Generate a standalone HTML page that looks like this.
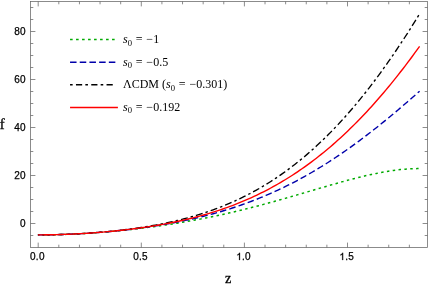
<!DOCTYPE html>
<html><head><meta charset="utf-8"><style>
html,body{margin:0;padding:0;background:#fff;}
svg{display:block;will-change:transform}
.t{font-family:"Liberation Sans",sans-serif;font-size:10px;letter-spacing:0.25px;fill:#000;stroke:#000;stroke-width:0.25px}
.a{font-family:"Liberation Serif",serif;font-size:15px;fill:#000;stroke:#000;stroke-width:0.3px}
.l{font-family:"Liberation Serif",serif;font-size:12px;fill:#000}
</style></head><body>
<svg width="429" height="287" viewBox="0 0 429 287">
<rect x="30.5" y="1.5" width="397.0" height="246.0" fill="none" stroke="#666" stroke-width="0.75"/>
<path d="M38.20,247.5v-4.9M38.20,1.5v4.9M58.82,247.5v-2.8M58.82,1.5v2.8M79.44,247.5v-2.8M79.44,1.5v2.8M100.06,247.5v-2.8M100.06,1.5v2.8M120.68,247.5v-2.8M120.68,1.5v2.8M141.30,247.5v-4.9M141.30,1.5v4.9M161.92,247.5v-2.8M161.92,1.5v2.8M182.54,247.5v-2.8M182.54,1.5v2.8M203.16,247.5v-2.8M203.16,1.5v2.8M223.78,247.5v-2.8M223.78,1.5v2.8M244.40,247.5v-4.9M244.40,1.5v4.9M265.02,247.5v-2.8M265.02,1.5v2.8M285.64,247.5v-2.8M285.64,1.5v2.8M306.26,247.5v-2.8M306.26,1.5v2.8M326.88,247.5v-2.8M326.88,1.5v2.8M347.50,247.5v-4.9M347.50,1.5v4.9M368.12,247.5v-2.8M368.12,1.5v2.8M388.74,247.5v-2.8M388.74,1.5v2.8M409.36,247.5v-2.8M409.36,1.5v2.8M30.5,235.50h2.8M427.5,235.50h-2.8M30.5,223.50h4.9M427.5,223.50h-4.9M30.5,211.50h2.8M427.5,211.50h-2.8M30.5,199.50h2.8M427.5,199.50h-2.8M30.5,187.50h2.8M427.5,187.50h-2.8M30.5,175.50h4.9M427.5,175.50h-4.9M30.5,163.50h2.8M427.5,163.50h-2.8M30.5,151.50h2.8M427.5,151.50h-2.8M30.5,139.50h2.8M427.5,139.50h-2.8M30.5,127.50h4.9M427.5,127.50h-4.9M30.5,115.50h2.8M427.5,115.50h-2.8M30.5,103.50h2.8M427.5,103.50h-2.8M30.5,91.50h2.8M427.5,91.50h-2.8M30.5,79.50h4.9M427.5,79.50h-4.9M30.5,67.50h2.8M427.5,67.50h-2.8M30.5,55.50h2.8M427.5,55.50h-2.8M30.5,43.50h2.8M427.5,43.50h-2.8M30.5,31.50h4.9M427.5,31.50h-4.9M30.5,19.50h2.8M427.5,19.50h-2.8M30.5,7.50h2.8M427.5,7.50h-2.8" stroke="#666" stroke-width="0.75" fill="none"/>
<path d="M419.60,168.62 L417.20,168.62 L414.80,168.66 L412.40,168.73 L410.00,168.84 L407.60,168.99 L405.20,169.16 L402.80,169.37 L400.39,169.61 L397.99,169.88 L395.59,170.18 L393.19,170.50 L390.79,170.85 L388.39,171.22 L385.99,171.61 L383.59,172.03 L381.19,172.47 L378.79,172.93 L376.39,173.41 L373.99,173.91 L371.59,174.42 L369.19,174.95 L366.79,175.50 L364.39,176.06 L361.98,176.64 L359.58,177.23 L357.18,177.83 L354.78,178.44 L352.38,179.07 L349.98,179.70 L347.58,180.34 L345.18,180.99 L342.78,181.65 L340.38,182.32 L337.98,182.99 L335.58,183.67 L333.18,184.36 L330.78,185.05 L328.38,185.74 L325.98,186.44 L323.57,187.14 L321.17,187.84 L318.77,188.54 L316.37,189.25 L313.97,189.96 L311.57,190.67 L309.17,191.37 L306.77,192.08 L304.37,192.79 L301.97,193.49 L299.57,194.20 L297.17,194.90 L294.77,195.60 L292.37,196.30 L289.97,197.00 L287.57,197.69 L285.16,198.38 L282.76,199.06 L280.36,199.74 L277.96,200.42 L275.56,201.09 L273.16,201.76 L270.76,202.42 L268.36,203.08 L265.96,203.73 L263.56,204.38 L261.16,205.02 L258.76,205.66 L256.36,206.29 L253.96,206.91 L251.56,207.53 L249.16,208.14 L246.75,208.74 L244.35,209.34 L241.95,209.93 L239.55,210.51 L237.15,211.09 L234.75,211.66 L232.35,212.22 L229.95,212.78 L227.55,213.33 L225.15,213.87 L222.75,214.40 L220.35,214.93 L217.95,215.45 L215.55,215.96 L213.15,216.46 L210.75,216.96 L208.34,217.45 L205.94,217.93 L203.54,218.41 L201.14,218.88 L198.74,219.34 L196.34,219.79 L193.94,220.24 L191.54,220.68 L189.14,221.11 L186.74,221.53 L184.34,221.95 L181.94,222.36 L179.54,222.76 L177.14,223.16 L174.74,223.55 L172.34,223.93 L169.93,224.30 L167.53,224.67 L165.13,225.03 L162.73,225.39 L160.33,225.73 L157.93,226.07 L155.53,226.41 L153.13,226.74 L150.73,227.06 L148.33,227.37 L145.93,227.68 L143.53,227.98 L141.13,228.28 L138.73,228.57 L136.33,228.85 L133.93,229.13 L131.52,229.40 L129.12,229.66 L126.72,229.92 L124.32,230.17 L121.92,230.42 L119.52,230.66 L117.12,230.89 L114.72,231.12 L112.32,231.34 L109.92,231.55 L107.52,231.76 L105.12,231.96 L102.72,232.16 L100.32,232.35 L97.92,232.54 L95.52,232.71 L93.11,232.88 L90.71,233.05 L88.31,233.21 L85.91,233.36 L83.51,233.50 L81.11,233.64 L78.71,233.77 L76.31,233.90 L73.91,234.02 L71.51,234.13 L69.11,234.23 L66.71,234.33 L64.31,234.41 L61.91,234.49 L59.51,234.57 L57.11,234.63 L54.70,234.69 L52.30,234.73 L49.90,234.77 L47.50,234.80 L45.10,234.82 L42.70,234.83 L40.30,234.84 L37.90,234.83" stroke="#00aa00" stroke-width="1.5" fill="none" stroke-dasharray="2.5 3.37" stroke-dashoffset="4.87"/>
<path d="M419.60,91.19 L417.20,93.31 L414.80,95.42 L412.40,97.52 L410.00,99.62 L407.60,101.70 L405.20,103.77 L402.80,105.84 L400.39,107.89 L397.99,109.93 L395.59,111.95 L393.19,113.97 L390.79,115.97 L388.39,117.96 L385.99,119.93 L383.59,121.89 L381.19,123.83 L378.79,125.76 L376.39,127.68 L373.99,129.57 L371.59,131.45 L369.19,133.32 L366.79,135.17 L364.39,137.00 L361.98,138.81 L359.58,140.60 L357.18,142.38 L354.78,144.14 L352.38,145.88 L349.98,147.60 L347.58,149.30 L345.18,150.99 L342.78,152.65 L340.38,154.30 L337.98,155.92 L335.58,157.53 L333.18,159.12 L330.78,160.69 L328.38,162.23 L325.98,163.76 L323.57,165.27 L321.17,166.75 L318.77,168.22 L316.37,169.67 L313.97,171.09 L311.57,172.50 L309.17,173.89 L306.77,175.25 L304.37,176.60 L301.97,177.93 L299.57,179.23 L297.17,180.52 L294.77,181.78 L292.37,183.03 L289.97,184.26 L287.57,185.46 L285.16,186.65 L282.76,187.82 L280.36,188.96 L277.96,190.09 L275.56,191.20 L273.16,192.29 L270.76,193.36 L268.36,194.41 L265.96,195.44 L263.56,196.46 L261.16,197.45 L258.76,198.43 L256.36,199.39 L253.96,200.33 L251.56,201.26 L249.16,202.16 L246.75,203.05 L244.35,203.92 L241.95,204.78 L239.55,205.61 L237.15,206.43 L234.75,207.24 L232.35,208.03 L229.95,208.80 L227.55,209.55 L225.15,210.29 L222.75,211.02 L220.35,211.73 L217.95,212.42 L215.55,213.10 L213.15,213.77 L210.75,214.42 L208.34,215.05 L205.94,215.67 L203.54,216.28 L201.14,216.88 L198.74,217.46 L196.34,218.03 L193.94,218.58 L191.54,219.13 L189.14,219.66 L186.74,220.18 L184.34,220.68 L181.94,221.18 L179.54,221.66 L177.14,222.13 L174.74,222.59 L172.34,223.04 L169.93,223.48 L167.53,223.91 L165.13,224.33 L162.73,224.74 L160.33,225.14 L157.93,225.53 L155.53,225.90 L153.13,226.27 L150.73,226.63 L148.33,226.98 L145.93,227.33 L143.53,227.66 L141.13,227.99 L138.73,228.30 L136.33,228.61 L133.93,228.91 L131.52,229.20 L129.12,229.49 L126.72,229.76 L124.32,230.03 L121.92,230.29 L119.52,230.55 L117.12,230.79 L114.72,231.03 L112.32,231.26 L109.92,231.49 L107.52,231.70 L105.12,231.91 L102.72,232.12 L100.32,232.31 L97.92,232.50 L95.52,232.69 L93.11,232.86 L90.71,233.03 L88.31,233.19 L85.91,233.35 L83.51,233.49 L81.11,233.63 L78.71,233.77 L76.31,233.89 L73.91,234.01 L71.51,234.12 L69.11,234.23 L66.71,234.32 L64.31,234.41 L61.91,234.49 L59.51,234.57 L57.11,234.63 L54.70,234.69 L52.30,234.73 L49.90,234.77 L47.50,234.80 L45.10,234.82 L42.70,234.83 L40.30,234.84 L37.90,234.83" stroke="#0000aa" stroke-width="1.4" fill="none" stroke-dasharray="6.5 3.2" stroke-dashoffset="4.0"/>
<path d="M419.60,13.85 L417.20,17.76 L414.80,21.64 L412.40,25.47 L410.00,29.27 L407.60,33.03 L405.20,36.75 L402.80,40.44 L400.39,44.08 L397.99,47.68 L395.59,51.25 L393.19,54.77 L390.79,58.26 L388.39,61.70 L385.99,65.10 L383.59,68.47 L381.19,71.79 L378.79,75.07 L376.39,78.31 L373.99,81.51 L371.59,84.67 L369.19,87.79 L366.79,90.87 L364.39,93.90 L361.98,96.90 L359.58,99.85 L357.18,102.76 L354.78,105.64 L352.38,108.47 L349.98,111.26 L347.58,114.01 L345.18,116.71 L342.78,119.38 L340.38,122.01 L337.98,124.59 L335.58,127.14 L333.18,129.65 L330.78,132.11 L328.38,134.54 L325.98,136.93 L323.57,139.28 L321.17,141.58 L318.77,143.85 L316.37,146.08 L313.97,148.28 L311.57,150.43 L309.17,152.55 L306.77,154.62 L304.37,156.66 L301.97,158.67 L299.57,160.64 L297.17,162.57 L294.77,164.46 L292.37,166.32 L289.97,168.14 L287.57,169.93 L285.16,171.68 L282.76,173.39 L280.36,175.08 L277.96,176.73 L275.56,178.34 L273.16,179.92 L270.76,181.47 L268.36,182.99 L265.96,184.47 L263.56,185.92 L261.16,187.35 L258.76,188.74 L256.36,190.10 L253.96,191.43 L251.56,192.73 L249.16,194.00 L246.75,195.24 L244.35,196.45 L241.95,197.63 L239.55,198.79 L237.15,199.92 L234.75,201.02 L232.35,202.10 L229.95,203.15 L227.55,204.18 L225.15,205.18 L222.75,206.15 L220.35,207.10 L217.95,208.03 L215.55,208.93 L213.15,209.81 L210.75,210.67 L208.34,211.50 L205.94,212.32 L203.54,213.11 L201.14,213.88 L198.74,214.63 L196.34,215.36 L193.94,216.07 L191.54,216.76 L189.14,217.43 L186.74,218.09 L184.34,218.72 L181.94,219.34 L179.54,219.94 L177.14,220.52 L174.74,221.09 L172.34,221.64 L169.93,222.18 L167.53,222.70 L165.13,223.20 L162.73,223.69 L160.33,224.16 L157.93,224.63 L155.53,225.07 L153.13,225.51 L150.73,225.93 L148.33,226.34 L145.93,226.73 L143.53,227.12 L141.13,227.49 L138.73,227.85 L136.33,228.20 L133.93,228.54 L131.52,228.86 L129.12,229.18 L126.72,229.49 L124.32,229.79 L121.92,230.07 L119.52,230.35 L117.12,230.62 L114.72,230.88 L112.32,231.13 L109.92,231.37 L107.52,231.60 L105.12,231.82 L102.72,232.04 L100.32,232.25 L97.92,232.45 L95.52,232.64 L93.11,232.82 L90.71,233.00 L88.31,233.16 L85.91,233.32 L83.51,233.47 L81.11,233.62 L78.71,233.76 L76.31,233.88 L73.91,234.01 L71.51,234.12 L69.11,234.22 L66.71,234.32 L64.31,234.41 L61.91,234.49 L59.51,234.57 L57.11,234.63 L54.70,234.69 L52.30,234.73 L49.90,234.77 L47.50,234.80 L45.10,234.82 L42.70,234.83 L40.30,234.84 L37.90,234.83" stroke="#000" stroke-width="1.35" fill="none" stroke-dasharray="2.5 3 7 3" stroke-dashoffset="13.9"/>
<path d="M419.60,46.33 L417.20,49.66 L414.80,52.96 L412.40,56.23 L410.00,59.46 L407.60,62.66 L405.20,65.82 L402.80,68.95 L400.39,72.05 L397.99,75.11 L395.59,78.13 L393.19,81.12 L390.79,84.07 L388.39,86.99 L385.99,89.87 L383.59,92.72 L381.19,95.53 L378.79,98.31 L376.39,101.05 L373.99,103.75 L371.59,106.42 L369.19,109.06 L366.79,111.66 L364.39,114.22 L361.98,116.75 L359.58,119.24 L357.18,121.70 L354.78,124.12 L352.38,126.50 L349.98,128.86 L347.58,131.17 L345.18,133.45 L342.78,135.70 L340.38,137.91 L337.98,140.09 L335.58,142.24 L333.18,144.35 L330.78,146.42 L328.38,148.47 L325.98,150.48 L323.57,152.45 L321.17,154.40 L318.77,156.31 L316.37,158.18 L313.97,160.03 L311.57,161.84 L309.17,163.62 L306.77,165.37 L304.37,167.09 L301.97,168.78 L299.57,170.43 L297.17,172.06 L294.77,173.66 L292.37,175.22 L289.97,176.76 L287.57,178.26 L285.16,179.74 L282.76,181.19 L280.36,182.61 L277.96,184.00 L275.56,185.36 L273.16,186.70 L270.76,188.01 L268.36,189.29 L265.96,190.55 L263.56,191.78 L261.16,192.98 L258.76,194.16 L256.36,195.31 L253.96,196.44 L251.56,197.54 L249.16,198.62 L246.75,199.68 L244.35,200.71 L241.95,201.72 L239.55,202.71 L237.15,203.67 L234.75,204.61 L232.35,205.53 L229.95,206.43 L227.55,207.31 L225.15,208.17 L222.75,209.01 L220.35,209.82 L217.95,210.62 L215.55,211.40 L213.15,212.16 L210.75,212.90 L208.34,213.62 L205.94,214.33 L203.54,215.01 L201.14,215.68 L198.74,216.34 L196.34,216.98 L193.94,217.60 L191.54,218.20 L189.14,218.79 L186.74,219.37 L184.34,219.93 L181.94,220.47 L179.54,221.00 L177.14,221.52 L174.74,222.02 L172.34,222.51 L169.93,222.99 L167.53,223.46 L165.13,223.91 L162.73,224.35 L160.33,224.78 L157.93,225.19 L155.53,225.60 L153.13,225.99 L150.73,226.38 L148.33,226.75 L145.93,227.11 L143.53,227.47 L141.13,227.81 L138.73,228.14 L136.33,228.46 L133.93,228.78 L131.52,229.08 L129.12,229.38 L126.72,229.67 L124.32,229.95 L121.92,230.22 L119.52,230.48 L117.12,230.73 L114.72,230.98 L112.32,231.22 L109.92,231.45 L107.52,231.67 L105.12,231.88 L102.72,232.09 L100.32,232.29 L97.92,232.49 L95.52,232.67 L93.11,232.85 L90.71,233.02 L88.31,233.18 L85.91,233.34 L83.51,233.49 L81.11,233.63 L78.71,233.76 L76.31,233.89 L73.91,234.01 L71.51,234.12 L69.11,234.23 L66.71,234.32 L64.31,234.41 L61.91,234.49 L59.51,234.57 L57.11,234.63 L54.70,234.69 L52.30,234.73 L49.90,234.77 L47.50,234.80 L45.10,234.82 L42.70,234.83 L40.30,234.84 L37.90,234.83" stroke="#ff0000" stroke-width="1.4" fill="none"/>
<path d="M70.05,39.45H117.9" stroke="#00aa00" stroke-width="1.65" fill="none" stroke-dasharray="2.6 3.4"/>
<path d="M70.05,62.2H117.9" stroke="#0000aa" stroke-width="1.65" fill="none" stroke-dasharray="6.5 3.2"/>
<path d="M70.05,84.7H115" stroke="#000" stroke-width="1.65" fill="none" stroke-dasharray="2.6 3.3 6.2 3.2"/>
<path d="M70.05,107.4H117.9" stroke="#ff0000" stroke-width="1.5" fill="none"/>
<text x="37.4" y="260" text-anchor="middle" class="t">0.0</text>
<text x="140.5" y="260" text-anchor="middle" class="t">0.5</text>
<path transform="translate(236.28,260) scale(0.004883,-0.004883)" d="M763 0H583V1147Q518 1085 412.5 1023T223 930V1104Q374 1175 487 1276T647 1472H763Z" fill="#000" stroke="#000" stroke-width="50"/>
<text x="242.09" y="260" class="t">.0</text>
<path transform="translate(339.38,260) scale(0.004883,-0.004883)" d="M763 0H583V1147Q518 1085 412.5 1023T223 930V1104Q374 1175 487 1276T647 1472H763Z" fill="#000" stroke="#000" stroke-width="50"/>
<text x="345.19" y="260" class="t">.5</text>
<text x="25.9" y="226.5" text-anchor="end" class="t">0</text>
<text x="25.9" y="178.5" text-anchor="end" class="t">20</text>
<text x="25.9" y="130.5" text-anchor="end" class="t">40</text>
<text x="25.9" y="82.5" text-anchor="end" class="t">60</text>
<text x="25.9" y="34.5" text-anchor="end" class="t">80</text>
<text x="-0.3" y="129.2" class="a" style="font-size:14.6px">f</text>
<text x="224.9" y="283" class="a" style="font-size:14.2px">z</text>
<text x="123" y="42.9" class="l"><tspan font-style="italic">s</tspan><tspan font-size="8.6" dy="2.6">0</tspan><tspan dy="-2.6" dx="3.7">=</tspan><tspan dx="3.9">−</tspan><tspan dx="0.1">1</tspan></text>
<text x="123" y="65.5" class="l"><tspan font-style="italic">s</tspan><tspan font-size="8.6" dy="2.6">0</tspan><tspan dy="-2.6" dx="3.7">=</tspan><tspan dx="3.9">−</tspan><tspan dx="0.1">0.5</tspan></text>
<text x="123" y="88.1" class="l">ΛCDM (<tspan font-style="italic">s</tspan><tspan font-size="8.6" dy="2.6">0</tspan><tspan dy="-2.6" dx="3.7">=</tspan><tspan dx="3.9">−</tspan><tspan dx="0.1">0.301)</tspan></text>
<text x="123" y="110.7" class="l"><tspan font-style="italic">s</tspan><tspan font-size="8.6" dy="2.6">0</tspan><tspan dy="-2.6" dx="3.7">=</tspan><tspan dx="3.9">−</tspan><tspan dx="0.1">0.192</tspan></text>
</svg></body></html>
